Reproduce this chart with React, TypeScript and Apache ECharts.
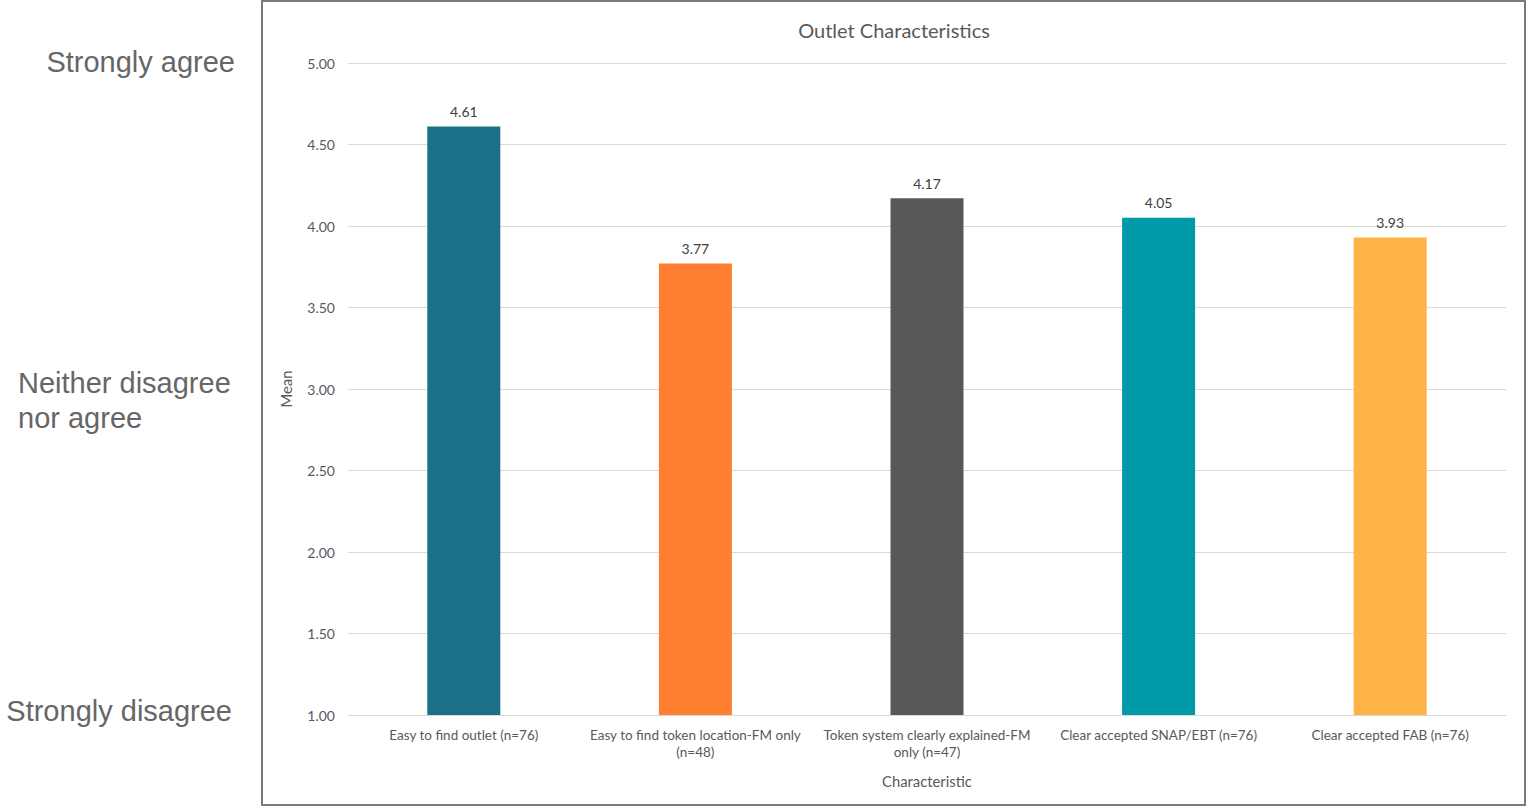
import React, { useEffect, useRef } from "react";
import * as echarts from "echarts";

const categories = [
  "Easy to find outlet (n=76)",
  "Easy to find token location-FM only\n(n=48)",
  "Token system clearly explained-FM\nonly (n=47)",
  "Clear accepted SNAP/EBT (n=76)",
  "Clear accepted FAB (n=76)",
];
const means = [4.61, 3.77, 4.17, 4.05, 3.93];
const barColors = ["#1b6f87", "#fe7f2f", "#58585a", "#0099a8", "#ffb347"];
const scaleLabels = ["Strongly agree", "Neither disagree\nnor agree", "Strongly disagree"];
const chartTitle = "Outlet Characteristics";

export default function App() {
  const ref = useRef<HTMLDivElement>(null);
  useEffect(() => {
    const chart = echarts.init(ref.current!, undefined, { renderer: "svg" });
    const font = "Lato, 'Open Sans', sans-serif";
    const bigFont = "29px 'Liberation Sans', Arial, sans-serif";
    chart.setOption({
      animation: false,
      backgroundColor: "#ffffff",
      graphic: [
        {
          type: "rect",
          shape: { x: 262, y: 1, width: 1263, height: 804 },
          style: { fill: "none", stroke: "#7a7a7a", lineWidth: 2 },
          silent: true,
        },
        {
          type: "text",
          x: 894,
          y: 30,
          style: {
            text: chartTitle,
            font: `20px ${font}`,
            fill: "#595959",
            textAlign: "center",
            textVerticalAlign: "middle",
          },
        },
        {
          type: "text",
          x: 235,
          y: 62,
          style: {
            text: scaleLabels[0],
            font: bigFont,
            fill: "#666666",
            textAlign: "right",
            textVerticalAlign: "middle",
          },
        },
        {
          type: "text",
          x: 18,
          y: 400,
          style: {
            text: scaleLabels[1],
            font: bigFont,
            fill: "#666666",
            textAlign: "left",
            textVerticalAlign: "middle",
            lineHeight: 35,
          },
        },
        {
          type: "text",
          x: 232,
          y: 711,
          style: {
            text: scaleLabels[2],
            font: bigFont,
            fill: "#666666",
            textAlign: "right",
            textVerticalAlign: "middle",
          },
        },
      ],
      grid: { left: 348, right: 20, top: 63, bottom: 91, containLabel: false },
      xAxis: {
        type: "category",
        data: categories,
        name: "Characteristic",
        nameLocation: "middle",
        nameGap: 58,
        nameTextStyle: { fontFamily: font, fontSize: 14.8, color: "#595959" },
        axisLine: { lineStyle: { color: "#d9d9d9", width: 1 } },
        axisTick: { show: false },
        axisLabel: {
          interval: 0,
          fontFamily: font,
          fontSize: 13.5,
          color: "#595959",
          lineHeight: 17,
          margin: 11,
        },
      },
      yAxis: {
        type: "value",
        min: 1,
        max: 5,
        interval: 0.5,
        name: "Mean",
        nameLocation: "middle",
        nameGap: 55,
        nameRotate: 90,
        nameTextStyle: { fontFamily: font, fontSize: 14.8, color: "#595959" },
        axisLine: { show: false },
        axisTick: { show: false },
        splitLine: { lineStyle: { color: "#d9d9d9", width: 1 } },
        axisLabel: {
          formatter: (v: number) => v.toFixed(2),
          fontFamily: font,
          fontSize: 14,
          color: "#595959",
          margin: 13,
        },
      },
      series: [
        {
          type: "bar",
          data: means.map((v, i) => ({ value: v, itemStyle: { color: barColors[i] } })),
          barWidth: 73,
          label: {
            show: true,
            position: "top",
            distance: 8,
            formatter: (p: any) => Number(p.value).toFixed(2),
            fontFamily: font,
            fontSize: 14,
            color: "#404040",
          },
        },
      ],
    });
    return () => chart.dispose();
  }, []);
  return (
    <div
      ref={ref}
      style={{ position: "fixed", left: 0, top: 0, width: 1526, height: 806 }}
    />
  );
}
